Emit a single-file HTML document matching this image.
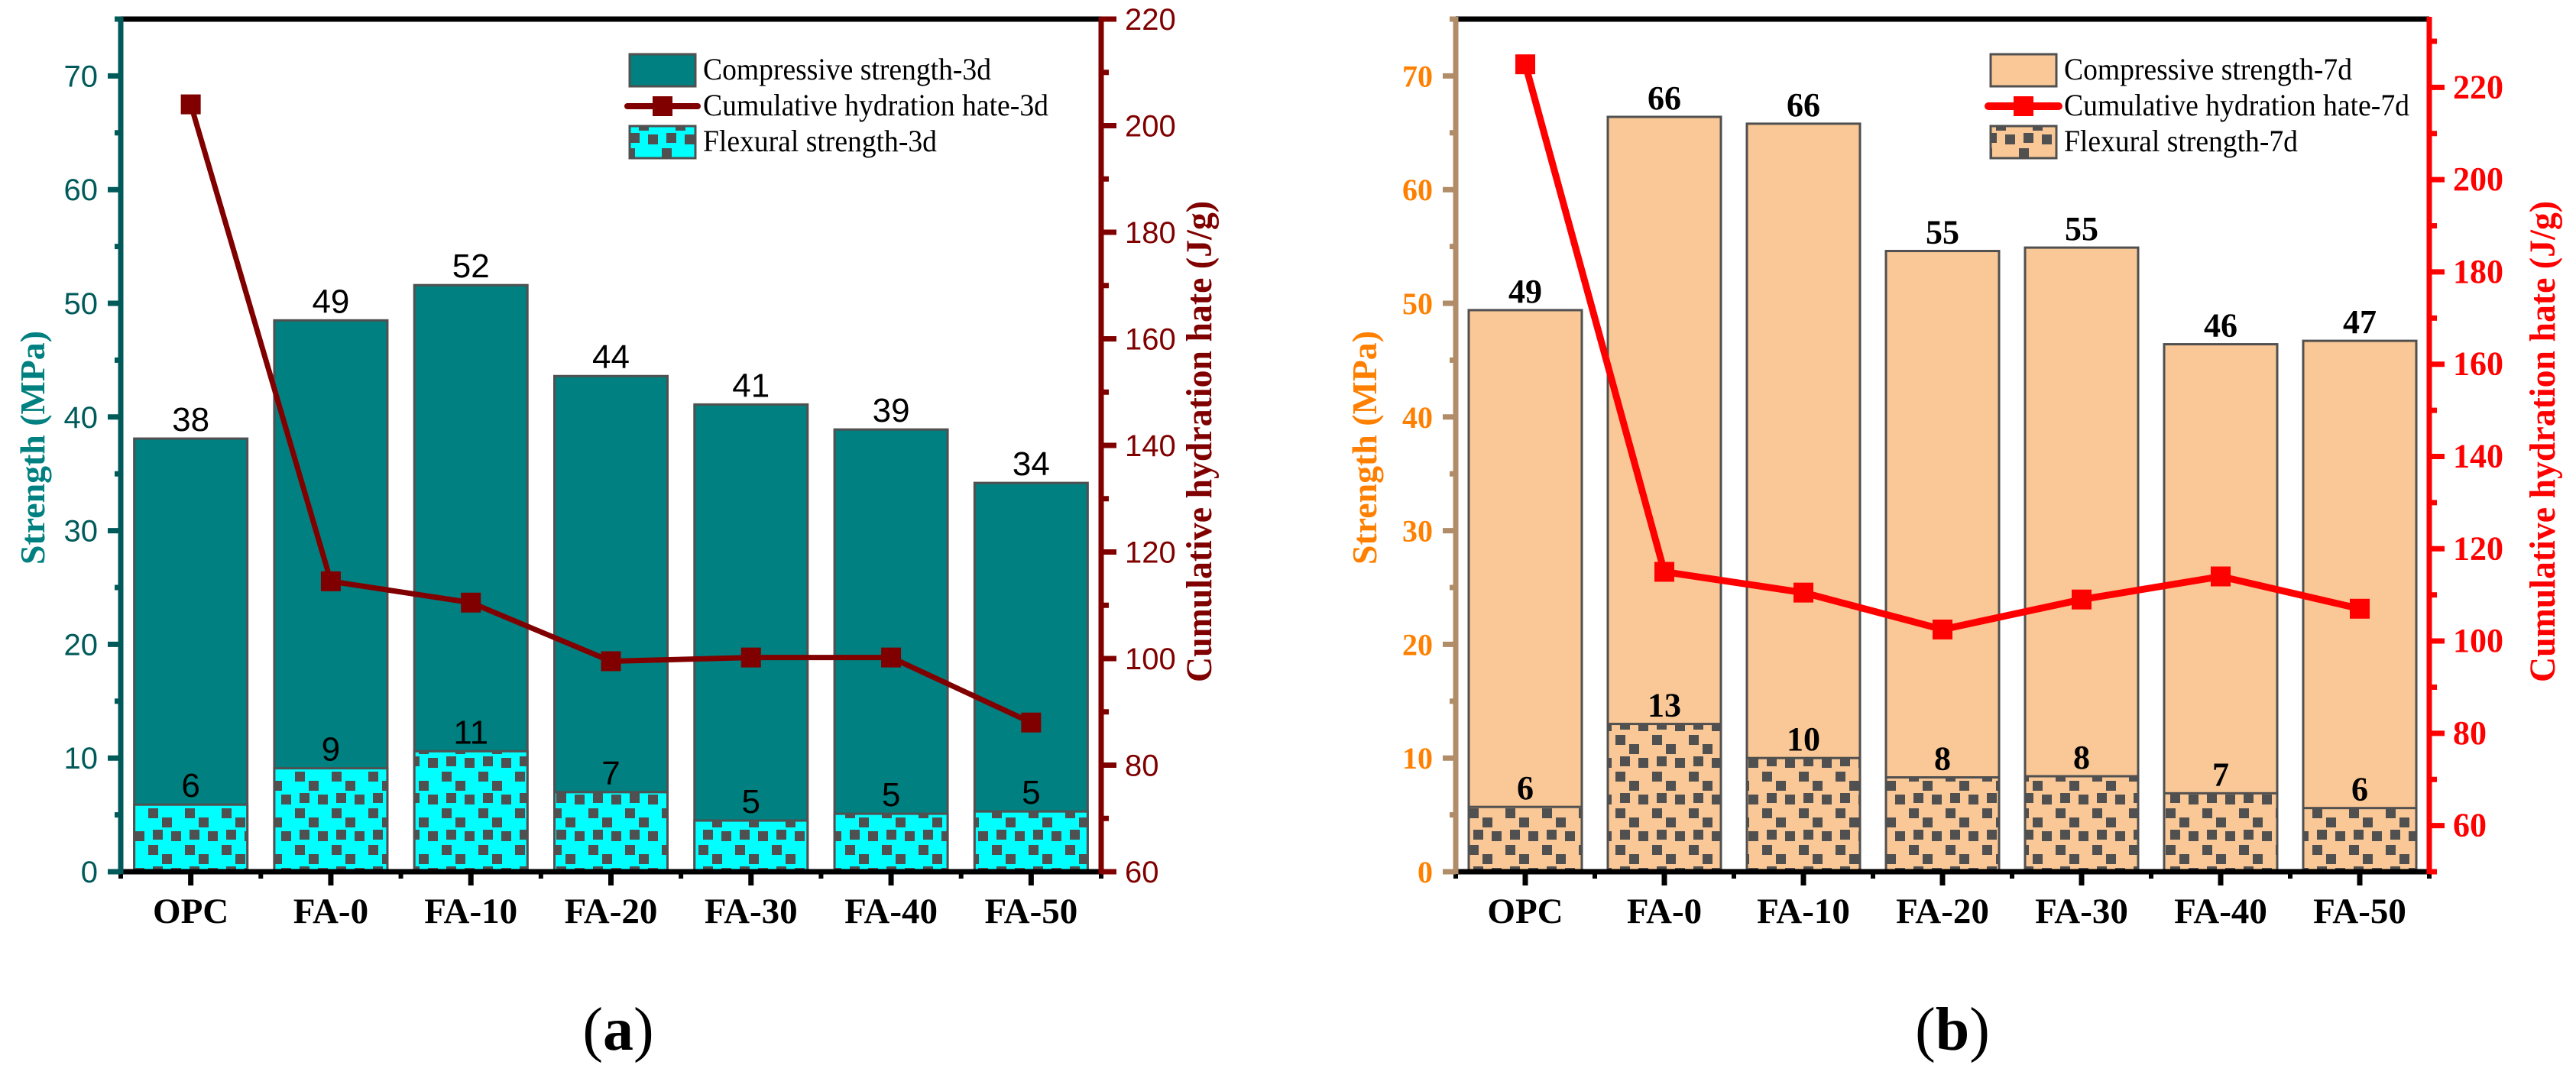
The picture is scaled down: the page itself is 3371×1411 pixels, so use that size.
<!DOCTYPE html>
<html><head><meta charset="utf-8"><style>
html,body{margin:0;padding:0;background:#fff;}
svg{display:block;}
</style></head><body>
<svg id="fig" width="3371" height="1411" viewBox="0 0 3371 1411" xmlns="http://www.w3.org/2000/svg">
<defs>
<pattern id="patA" patternUnits="userSpaceOnUse" width="48" height="48" x="0" y="0">
<rect width="48" height="48" fill="#00ffff"/>
<rect x="2" y="2" width="13" height="13" fill="#505050"/><rect x="20" y="14" width="13" height="13" fill="#505050"/><rect x="32" y="32" width="13" height="13" fill="#505050"/><rect x="8" y="30" width="13" height="13" fill="#505050"/>
</pattern>
<pattern id="patB" patternUnits="userSpaceOnUse" width="48" height="48" x="0" y="0">
<rect width="48" height="48" fill="#fac896"/>
<rect x="2" y="2" width="13" height="13" fill="#505050"/><rect x="20" y="14" width="13" height="13" fill="#505050"/><rect x="32" y="32" width="13" height="13" fill="#505050"/><rect x="8" y="30" width="13" height="13" fill="#505050"/>
</pattern>
</defs>
<g id="chartA"></g>
<g id="chartB"></g>
<text x="809" y="1374" font-family="'Liberation Serif', serif" font-size="80" text-anchor="middle">(<tspan font-weight="bold">a</tspan>)</text>
<text x="2555" y="1374" font-family="'Liberation Serif', serif" font-size="80" text-anchor="middle">(<tspan font-weight="bold">b</tspan>)</text>
</svg>
<script>
const categories = ["OPC","FA-0","FA-10","FA-20","FA-30","FA-40","FA-50"];
const compA = [38.1, 48.5, 51.6, 43.6, 41.1, 38.9, 34.2];
const flexA = [5.9, 9.1, 10.6, 7.0, 4.5, 5.1, 5.3];
const heatA = [204, 114.5, 110.5, 99.5, 100.2, 100.2, 88];
const compB = [49.4, 66.4, 65.8, 54.6, 54.9, 46.4, 46.7];
const flexB = [5.7, 13.0, 10.0, 8.3, 8.4, 6.9, 5.6];
const heatB = [225, 115, 110.5, 102.5, 109, 114, 107];
const leftTicks = [0,10,20,30,40,50,60,70];
const rightTicksA = [60,80,100,120,140,160,180,200,220];
const rightTicksB = [60,80,100,120,140,160,180,200,220];

const NS = "http://www.w3.org/2000/svg";
function mk(parent, tag, attrs, text){
  const e = document.createElementNS(NS, tag);
  for (const k in attrs) e.setAttribute(k, attrs[k]);
  if (text !== undefined) e.textContent = text;
  parent.appendChild(e);
  return e;
}

function drawChart(g, cfg){
  const L = cfg.left, R = cfg.right, T = 25, B = 1141;
  const n = categories.length, step = (R - L) / n, bw = 148;
  const y = v => B - (v - 0) / (75 - 0) * (B - T);
  const y2 = v => B - (v - cfg.rmin) / (cfg.rmax - cfg.rmin) * (B - T);
  const xc = i => L + step * (i + 0.5);
  const serif = "'Liberation Serif', serif";

  for (let i = 0; i < n; i++){
    const r = mk(g, "rect", {x: xc(i)-bw/2, y: y(cfg.comp[i]), width: bw, height: B - y(cfg.comp[i]), fill: cfg.compFill, stroke: "#505050", "stroke-width": 3});
    
    
    const f = mk(g, "rect", {x: xc(i)-bw/2, y: y(cfg.flex[i]), width: bw, height: B - y(cfg.flex[i]), fill: cfg.flexFill, stroke: "#505050", "stroke-width": 3});
    
    
    const t1 = mk(g, "text", {x: xc(i), y: y(cfg.comp[i]) - 10, "text-anchor": "middle", "font-family": cfg.valFont, "font-weight": cfg.valWeight, "font-size": 44, fill: "#000"}, Math.round(cfg.comp[i]));
    
    
    const t2 = mk(g, "text", {x: xc(i), y: y(cfg.flex[i]) - 10, "text-anchor": "middle", "font-family": cfg.valFont, "font-weight": cfg.valWeight, "font-size": 44, fill: "#000"}, Math.round(cfg.flex[i]));
    
    
  }
  let d = "";
  for (let i = 0; i < n; i++) d += (i ? "L" : "M") + xc(i) + " " + y2(cfg.heat[i]);
  const ln = mk(g, "path", {d: d, fill: "none", stroke: cfg.lineColor, "stroke-width": cfg.lineW, "stroke-linejoin": "round"});
  
  
  for (let i = 0; i < n; i++){
    const m = mk(g, "rect", {x: xc(i)-13, y: y2(cfg.heat[i])-13, width: 26, height: 26, fill: cfg.lineColor});
    
    
  }
  mk(g, "line", {x1: L, y1: T, x2: R, y2: T, stroke: "#000", "stroke-width": 7});
  const xa = mk(g, "line", {x1: L-4, y1: B, x2: R+4, y2: B, stroke: "#000", "stroke-width": 7});
  
  
  for (let i = 0; i < n; i++){
    mk(g, "line", {x1: xc(i), y1: B, x2: xc(i), y2: B + 18, stroke: "#000", "stroke-width": 7});
    const lab = mk(g, "text", {x: xc(i), y: 1208, "text-anchor": "middle", "font-family": serif, "font-weight": "bold", "font-size": 47, fill: "#000"}, categories[i]);
    
    
  }
  for (let i = 0; i <= n; i++) mk(g, "line", {x1: L + step*i, y1: B, x2: L + step*i, y2: B + 9, stroke: "#000", "stroke-width": 6});
  const la = mk(g, "line", {x1: L, y1: T - 3, x2: L, y2: B + 3, stroke: cfg.lAxis, "stroke-width": 7});
  
  
  for (let v = 0; v <= 75; v += 5){
    const major = v % 10 === 0;
    mk(g, "line", {x1: L - (major ? 17 : 8), y1: y(v), x2: L, y2: y(v), stroke: cfg.lAxis, "stroke-width": 7});
  }
  leftTicks.forEach(v => {
    const t = mk(g, "text", {x: L - 30, y: y(v) + 14, "text-anchor": "end", "font-family": cfg.tickFont, "font-weight": cfg.tickWeight, "font-size": 40, fill: cfg.lLabel}, v);
    
    
  });
  const lt = mk(g, "text", {x: 0, y: 0, transform: `translate(${cfg.ltX},586) rotate(-90)`, "text-anchor": "middle", "font-family": serif, "font-weight": "bold", "font-size": 46, fill: cfg.lTitle, textLength: 306, lengthAdjust: "spacingAndGlyphs"}, "Strength (MPa)");
  
  
  const ra = mk(g, "line", {x1: R, y1: T - 3, x2: R, y2: B + 3, stroke: cfg.rAxis, "stroke-width": 7});
  
  
  for (let v = cfg.rmin; v <= cfg.rmax + 0.01; v += 10){
    const major = v % 20 === 0;
    mk(g, "line", {x1: R, y1: y2(v), x2: R + (major ? 20 : 10), y2: y2(v), stroke: cfg.rAxis, "stroke-width": 7});
  }
  cfg.rTicks.forEach(v => {
    const t = mk(g, "text", {x: R + 31, y: y2(v) + 14, "text-anchor": "start", "font-family": cfg.tickFont, "font-weight": cfg.tickWeight, "font-size": cfg.rFont, fill: cfg.rAxis}, v);
    
    
  });
  const rt = mk(g, "text", {x: 0, y: 0, transform: `translate(${cfg.rtX},578) rotate(-90)`, "text-anchor": "middle", "font-family": serif, "font-weight": "bold", "font-size": 48, fill: cfg.rAxis, textLength: 630, lengthAdjust: "spacingAndGlyphs"}, "Cumulative hydration hate (J/g)");
  
  
  const lg = mk(g, "g", {});
  
  
  const sx = cfg.legX;
  mk(lg, "rect", {x: sx, y: 71, width: 86, height: 42, fill: cfg.compFill, stroke: "#505050", "stroke-width": 3});
  mk(lg, "line", {x1: sx - 3, y1: 139, x2: sx + 89, y2: 139, stroke: cfg.lineColor, "stroke-width": cfg.lineW + 1, "stroke-linecap": "round"});
  mk(lg, "rect", {x: sx + 30, y: 126, width: 26, height: 26, fill: cfg.lineColor});
  mk(lg, "rect", {x: sx, y: 165, width: 86, height: 42, fill: cfg.flexFill, stroke: "#505050", "stroke-width": 3});
  const labels = cfg.legLabels, widths = [377, 452, 306], ys = [104, 151, 198];
  labels.forEach((s, k) => {
    const t = mk(lg, "text", {x: sx + 96, y: ys[k], "font-family": serif, "font-size": 40, fill: "#000", textLength: widths[k], lengthAdjust: "spacingAndGlyphs"}, s);
    
    
  });
}

drawChart(document.getElementById("chartA"), {
  left: 158, right: 1441, comp: compA, flex: flexA, heat: heatA, rmin: 60, rmax: 220, rTicks: rightTicksA,
  compFill: "#008080", flexFill: "url(#patA)", lineColor: "#800000", lineW: 7,
  lAxis: "#005a5a", lLabel: "#005a5a", lTitle: "#008080", rAxis: "#800000",
  tickFont: "'Liberation Sans', sans-serif", tickWeight: "normal", rFont: 40,
  valFont: "'Liberation Sans', sans-serif", valWeight: "normal",
  ltX: 58, rtX: 1585, legX: 824,
  legLabels: ["Compressive strength-3d", "Cumulative hydration hate-3d", "Flexural strength-3d"]
});
drawChart(document.getElementById("chartB"), {
  left: 1905, right: 3179, comp: compB, flex: flexB, heat: heatB, rmin: 50, rmax: 234.8, rTicks: rightTicksB,
  compFill: "#fac896", flexFill: "url(#patB)", lineColor: "#ff0000", lineW: 9,
  lAxis: "#b08c68", lLabel: "#ff8000", lTitle: "#ff8000", rAxis: "#ff0000",
  tickFont: "'Liberation Serif', serif", tickWeight: "bold", rFont: 44,
  valFont: "'Liberation Serif', serif", valWeight: "bold",
  ltX: 1801, rtX: 3343, legX: 2605,
  legLabels: ["Compressive strength-7d", "Cumulative hydration hate-7d", "Flexural strength-7d"]
});
</script>
</body></html>
